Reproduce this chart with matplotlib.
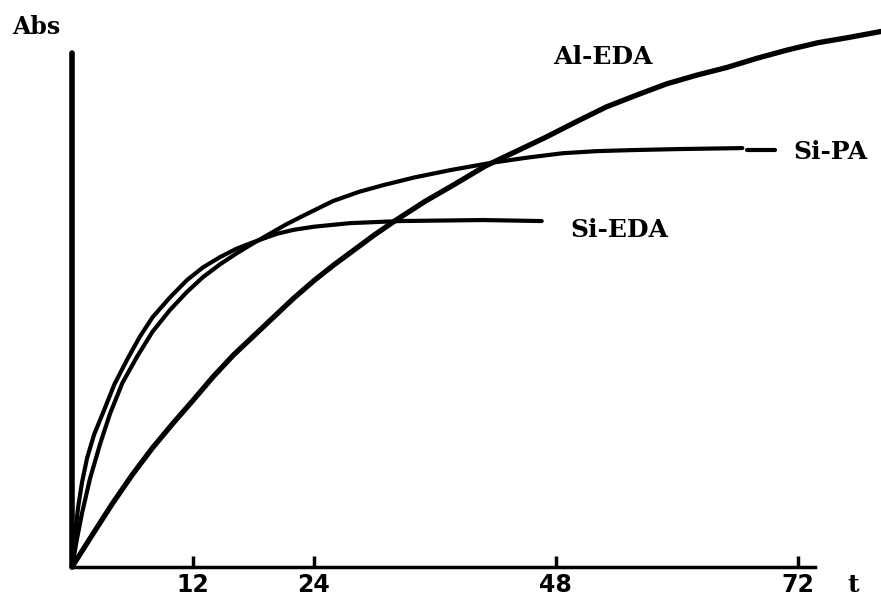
import numpy as np
import matplotlib.pyplot as plt

# values (t in hours, Abs in arbitrary units)
t_al = [0, 2, 4, 6, 8, 10, 12, 14, 16, 18, 20, 22, 24, 26, 28, 30, 32, 35, 38, 41,
        44, 47, 50, 53, 56, 59, 62, 65, 68, 71, 74, 77, 80.3]
abs_al = [0, 0.062, 0.123, 0.180, 0.232, 0.279, 0.324, 0.370, 0.412, 0.449, 0.486,
          0.523, 0.557, 0.588, 0.617, 0.646, 0.673, 0.711, 0.745, 0.780, 0.808,
          0.836, 0.866, 0.895, 0.918, 0.940, 0.957, 0.972, 0.990, 1.006, 1.020,
          1.030, 1.042]

t_si_eda = [0, 0.3, 0.6, 1.0, 1.5, 2.2, 3.08, 4.2, 5.46, 6.7, 8.0, 9.7, 11.4, 13.0,
            14.7, 16.3, 18.0, 20.3, 22.0, 24.0, 27.6, 32.5, 36.5, 40.8, 46.6]
abs_si_eda = [0, 0.06, 0.115, 0.165, 0.212, 0.258, 0.30, 0.355, 0.403, 0.447, 0.486,
              0.524, 0.558, 0.583, 0.603, 0.619, 0.632, 0.648, 0.656, 0.662, 0.669,
              0.673, 0.674, 0.675, 0.673]

t_si_pa = [0, 0.5, 1.0, 1.79, 2.8, 3.77, 5.0, 6.45, 8.0, 9.72, 11.4, 13.0, 14.7, 16.4,
           18.0, 19.6, 21.2, 22.9, 25.9, 28.5, 30.9, 34.0, 37.5, 41.5, 45.0, 48.7,
           52.0, 55.4, 60.0, 66.5]
abs_si_pa = [0, 0.055, 0.105, 0.172, 0.240, 0.298, 0.358, 0.409, 0.458, 0.50, 0.535,
             0.564, 0.589, 0.611, 0.630, 0.648, 0.666, 0.683, 0.712, 0.730, 0.743,
             0.758, 0.772, 0.786, 0.796, 0.805, 0.809, 0.811, 0.813, 0.815]

# short dash before the Si-PA label
t_pa_dash = [67.0, 69.7]
abs_pa_dash = [0.811, 0.811]

xticks = [12, 24, 48, 72]

fig = plt.figure(figsize=(8.81, 5.99), dpi=100)
ax = fig.add_axes([0, 0, 1, 1])

ax.plot(t_al, abs_al, color='black', lw=3.8, solid_capstyle='round')
ax.plot(t_si_eda, abs_si_eda, color='black', lw=3.0, solid_capstyle='round')
ax.plot(t_si_pa, abs_si_pa, color='black', lw=3.0, solid_capstyle='round')
ax.plot(t_pa_dash, abs_pa_dash, color='black', lw=3.0, solid_capstyle='round')

ax.set_xlim(-7.14, 80.26)
ax.set_ylim(-0.0623, 1.1031)

for s in ['top', 'right']:
    ax.spines[s].set_visible(False)
ax.spines['left'].set_position(('data', 0))
ax.spines['bottom'].set_position(('data', 0))
ax.spines['left'].set_bounds(0, 1.0)
ax.spines['bottom'].set_bounds(0, 73.7)
ax.spines['left'].set_linewidth(4)
ax.spines['bottom'].set_linewidth(2.5)
ax.spines['left'].set_capstyle('round')

ax.set_xticks(xticks)
ax.set_xticklabels([str(v) for v in xticks], fontsize=17, fontweight='bold',
                   family='DejaVu Sans')
ax.set_yticks([])
ax.tick_params(axis='x', direction='in', length=8, width=2.5, pad=4)

lab = dict(fontsize=18, fontweight='bold', family='DejaVu Serif')
ax.text(-5.95, 1.05, 'Abs', ha='left', va='center', fontsize=17,
        fontweight='bold', family='DejaVu Serif')
ax.text(76.9, -0.035, 't', ha='left', va='center', **lab)
ax.text(47.7, 0.992, 'Al-EDA', ha='left', va='center', **lab)
ax.text(71.6, 0.807, 'Si-PA', ha='left', va='center', **lab)
ax.text(49.4, 0.656, 'Si-EDA', ha='left', va='center', **lab)

fig.savefig('out.png', dpi=100)
